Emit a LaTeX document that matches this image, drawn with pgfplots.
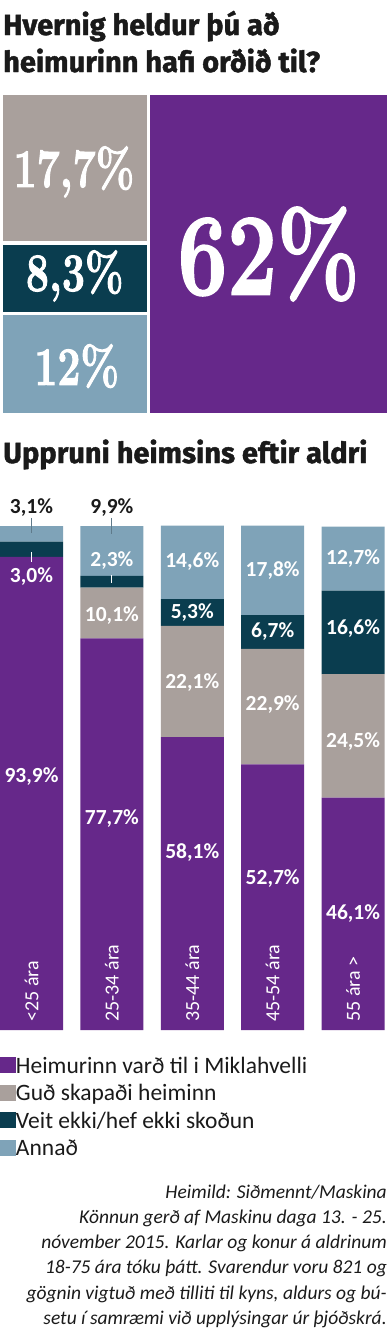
\documentclass[border=0pt]{standalone}
\usepackage{fontspec}
\usepackage{graphicx}
\usepackage{pgfplots}
\pgfplotsset{compat=1.18}
\newfontfamily\titlefont[BoldFeatures={FakeBold=1.5}]{Fira Sans}
\newfontfamily\bodyfont{Carlito}
\newfontfamily\numfont[BoldFeatures={FakeBold=2}]{Latin Modern Roman}
\definecolor{cpurple}{HTML}{66288A}
\definecolor{cgray}{HTML}{A9A09C}
\definecolor{cdark}{HTML}{0A3D4F}
\definecolor{cblue}{HTML}{7FA3B8}
\definecolor{ctext}{HTML}{1A1A1A}
\newcommand{\tfont}{\titlefont\bfseries\fontsize{29}{29}\selectfont}
\newcommand{\numlab}[2]{{\numfont\bfseries\fontsize{#1}{#1}\selectfont\scalebox{0.76}[1]{#2}}}
\newcommand{\vlab}{\bodyfont\bfseries\fontsize{21.5}{21.5}\selectfont}
\newcommand{\clab}{\bodyfont\fontsize{20}{20}\selectfont}
\newcommand{\ffont}{\bodyfont\itshape\fontsize{19.5}{19.5}\selectfont}
\begin{document}
\begin{tikzpicture}
\useasboundingbox (0pt,0pt) rectangle (390pt,-1342pt);
% titles
\node[anchor=base west, inner sep=0pt, text=ctext] at (3pt,-35pt) {\tfont Hvernig heldur þú að};
\node[anchor=base west, inner sep=0pt, text=ctext] at (3pt,-72pt) {\tfont heimurinn hafi orðið til?};
\node[anchor=base west, inner sep=0pt, text=ctext] at (3pt,-463pt) {\tfont Uppruni heimsins eftir aldri};

% treemap
\begin{axis}[at={(1pt,-415pt)}, anchor=south west, scale only axis,
  width=388pt, height=322pt, xmin=0, xmax=100, ymin=0, ymax=100,
  hide axis, clip=false]
\addplot[fill=cpurple, draw=white, line width=3.5pt] coordinates {(38,0) (100,0) (100,100) (38,100)} -- cycle;
\addplot[fill=cgray, draw=white, line width=3.5pt] coordinates {(0,53.42) (38,53.42) (38,100) (0,100)} -- cycle;
\addplot[fill=cdark, draw=white, line width=3.5pt] coordinates {(0,31.58) (38,31.58) (38,53.42) (0,53.42)} -- cycle;
\addplot[fill=cblue, draw=white, line width=3.5pt] coordinates {(0,0) (38,0) (38,31.58) (0,31.58)} -- cycle;
\node[text=white, inner sep=0pt] at (axis cs:69,50) {\numlab{116}{62\%}};
\node[text=white, inner sep=0pt] at (axis cs:18.8,75.5) {\numlab{54}{17,7\%}};
\node[text=white, inner sep=0pt] at (axis cs:19,43.2) {\numlab{54}{8,3\%}};
\node[text=white, inner sep=0pt] at (axis cs:19.5,15.2) {\numlab{54}{12\%}};
\end{axis}

% stacked bars
\begin{axis}[at={(0pt,-1030pt)}, anchor=south west, scale only axis,
  width=390pt, height=504pt, xmin=-0.3918, xmax=4.459, ymin=0, ymax=100,
  hide axis, clip=false, ybar stacked, bar width=63pt,
  legend cell align=left,
  legend style={at={(0,-0.0536)}, anchor=north west, draw=none, fill=none,
    inner sep=0pt, outer sep=0pt, row sep=6.5pt,
    font=\bodyfont\fontsize{23.5}{23.5}\selectfont, text=ctext,
    nodes={inner sep=0pt, text height=16pt, text depth=5pt},
    /tikz/every even column/.append style={column sep=6pt}},
  legend image code/.code={\fill[#1] (0pt,-5.5pt) rectangle (16pt,10.5pt);}]
\addplot[fill=cpurple, draw=none] coordinates {(0,93.9) (1,77.7) (2,58.1) (3,52.7) (4,46.1)};
\addplot[fill=cgray, draw=none] coordinates {(0,0) (1,10.1) (2,22.1) (3,22.9) (4,24.5)};
\addplot[fill=cdark, draw=none] coordinates {(0,3.0) (1,2.3) (2,5.3) (3,6.7) (4,16.6)};
\addplot[fill=cblue, draw=none] coordinates {(0,3.1) (1,9.9) (2,14.6) (3,17.8) (4,12.7)};
\legend{Heimurinn varð til i Miklahvelli, Guð skapaði heiminn, Veit ekki/hef ekki skoðun, Annað}
\end{axis}

% labels overlay (same geometry as the bar axis)
\begin{axis}[at={(0pt,-1030pt)}, anchor=south west, scale only axis,
  width=390pt, height=504pt, xmin=-0.3918, xmax=4.459, ymin=0, ymax=100,
  hide axis, clip=false]
% callout lines
\draw[color=cblue!75!black, line width=1pt] (axis cs:0,101.6) -- (axis cs:0,98.6);
\draw[color=cblue!75!black, line width=1pt] (axis cs:1,101.6) -- (axis cs:1,98.4);
\draw[white, line width=1pt] (axis cs:0,94.8) -- (axis cs:0,92.8);
\draw[white, line width=1pt] (axis cs:1,90.3) -- (axis cs:1,88.6);
% value labels
\node[text=ctext, inner sep=0pt] at (axis cs:0,103.6) {\vlab 3,1\%};
\node[text=ctext, inner sep=0pt] at (axis cs:1,103.6) {\vlab 9,9\%};
\node[text=white, inner sep=0pt] at (axis cs:0,90.0) {\vlab 3,0\%};
\node[text=white, inner sep=0pt] at (axis cs:0,50.2) {\vlab 93,9\%};
\node[text=white, inner sep=0pt] at (axis cs:1,93.1) {\vlab 2,3\%};
\node[text=white, inner sep=0pt] at (axis cs:1,82.3) {\vlab 10,1\%};
\node[text=white, inner sep=0pt] at (axis cs:1,41.9) {\vlab 77,7\%};
\node[text=white, inner sep=0pt] at (axis cs:2,92.9) {\vlab 14,6\%};
\node[text=white, inner sep=0pt] at (axis cs:2,82.9) {\vlab 5,3\%};
\node[text=white, inner sep=0pt] at (axis cs:2,68.9) {\vlab 22,1\%};
\node[text=white, inner sep=0pt] at (axis cs:2,35.3) {\vlab 58,1\%};
\node[text=white, inner sep=0pt] at (axis cs:3,91.2) {\vlab 17,8\%};
\node[text=white, inner sep=0pt] at (axis cs:3,79.0) {\vlab 6,7\%};
\node[text=white, inner sep=0pt] at (axis cs:3,64.6) {\vlab 22,9\%};
\node[text=white, inner sep=0pt] at (axis cs:3,30.0) {\vlab 52,7\%};
\node[text=white, inner sep=0pt] at (axis cs:4,93.6) {\vlab 12,7\%};
\node[text=white, inner sep=0pt] at (axis cs:4,79.6) {\vlab 16,6\%};
\node[text=white, inner sep=0pt] at (axis cs:4,57.2) {\vlab 24,5\%};
\node[text=white, inner sep=0pt] at (axis cs:4,23.2) {\vlab 46,1\%};
% category labels
\node[rotate=90, anchor=west, text=white, inner sep=0pt] at (axis cs:0,1.6) {\clab <25 ára};
\node[rotate=90, anchor=west, text=white, inner sep=0pt] at (axis cs:1,1.6) {\clab 25-34 ára};
\node[rotate=90, anchor=west, text=white, inner sep=0pt] at (axis cs:2,1.6) {\clab 35-44 ára};
\node[rotate=90, anchor=west, text=white, inner sep=0pt] at (axis cs:3,1.6) {\clab 45-54 ára};
\node[rotate=90, anchor=west, text=white, inner sep=0pt] at (axis cs:4,1.6) {\clab 55 ára >};
\end{axis}

% footer
\node[anchor=base east, inner sep=0pt, text=ctext] at (387pt,-1198pt) {\ffont Heimild: Siðmennt/Maskina};
\node[anchor=base east, inner sep=0pt, text=ctext] at (387pt,-1223.3pt) {\ffont Könnun gerð af Maskinu daga 13. - 25.};
\node[anchor=base east, inner sep=0pt, text=ctext] at (387pt,-1248.6pt) {\ffont nóvember 2015. Karlar og konur á aldrinum};
\node[anchor=base east, inner sep=0pt, text=ctext] at (387pt,-1273.9pt) {\ffont 18-75 ára tóku þátt. Svarendur voru 821 og};
\node[anchor=base east, inner sep=0pt, text=ctext] at (387pt,-1299.2pt) {\ffont gögnin vigtuð með tilliti til kyns, aldurs og bú-};
\node[anchor=base east, inner sep=0pt, text=ctext] at (387pt,-1324.5pt) {\ffont setu í samræmi við upplýsingar úr þjóðskrá.};
\end{tikzpicture}
\end{document}
